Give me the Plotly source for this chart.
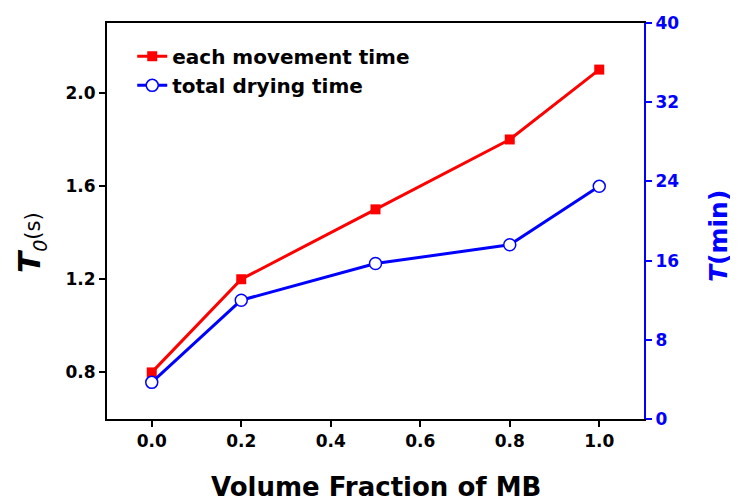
import plotly.graph_objects as go

volume_fraction = [0.0, 0.2, 0.5, 0.8, 1.0]
each_movement_time = [0.8, 1.2, 1.5, 1.8, 2.1]
total_drying_time = [3.7, 12.0, 15.7, 17.6, 23.5]

x_ticks = [0.0, 0.2, 0.4, 0.6, 0.8, 1.0]
x_tick_labels = ["0.0", "0.2", "0.4", "0.6", "0.8", "1.0"]
y_ticks = [0.8, 1.2, 1.6, 2.0]
y_tick_labels = ["0.8", "1.2", "1.6", "2.0"]
y2_ticks = [0, 8, 16, 24, 32, 40]
y2_tick_labels = ["0", "8", "16", "24", "32", "40"]

FONT = "DejaVu Sans"
RED = "#FF0000"
BLUE = "#0000FF"

fig = go.Figure()
fig.add_trace(go.Scatter(
    x=volume_fraction, y=each_movement_time, name="<b>each movement time</b>",
    mode="lines+markers",
    line=dict(color=RED, width=3),
    marker=dict(symbol="square", size=10, color=RED),
    yaxis="y",
))
fig.add_trace(go.Scatter(
    x=volume_fraction, y=total_drying_time, name="<b>total drying time</b>",
    mode="lines+markers",
    line=dict(color=BLUE, width=3),
    marker=dict(symbol="circle", size=12, color="white", line=dict(color=BLUE, width=1.5)),
    yaxis="y2",
))

# The page body has an 8px margin, so the plot area is placed 8px up/left in figure coords.
fig.update_layout(
    width=738, height=504,
    margin=dict(l=99, r=102, t=15, b=93, autoexpand=False),
    paper_bgcolor="white", plot_bgcolor="white",
    font=dict(family=FONT, color="black"),
    showlegend=True,
    legend=dict(
        x=0.047, y=0.965, xanchor="left", yanchor="top",
        bgcolor="rgba(0,0,0,0)",
        font=dict(family=FONT, size=20, color="black"),
        itemwidth=30,
        tracegroupgap=0,
    ),
    xaxis=dict(
        range=[-0.1, 1.1], automargin=False,
        tickvals=x_ticks, ticktext=["<b>%s</b>" % t for t in x_tick_labels],
        showline=True, linecolor="black", linewidth=2, mirror=True,
        ticks="outside", ticklen=6, tickwidth=2, tickcolor="black",
        showgrid=False, zeroline=False,
        tickfont=dict(family=FONT, size=17, color="black"),
    ),
    yaxis=dict(
        range=[0.6, 2.3], automargin=False,
        tickvals=y_ticks, ticktext=["<b>%s</b>" % t for t in y_tick_labels],
        showline=True, linecolor="black", linewidth=2,
        ticks="outside", ticklen=6, tickwidth=2, tickcolor="black",
        showgrid=False, zeroline=False,
        tickfont=dict(family=FONT, size=17, color="black"),
    ),
    yaxis2=dict(
        range=[0, 40], overlaying="y", side="right", automargin=False,
        tickvals=y2_ticks, ticktext=["<b>%s</b>" % t for t in y2_tick_labels],
        showline=True, linecolor=BLUE, linewidth=2,
        ticks="outside", ticklen=6, tickwidth=2, tickcolor=BLUE,
        showgrid=False, zeroline=False,
        tickfont=dict(family=FONT, size=17, color=BLUE),
    ),
)

# Axis titles as annotations (paper coords; plot area is 537 x 396 px)
fig.add_annotation(
    text="<b>Volume Fraction of MB</b>",
    xref="paper", yref="paper", x=0.5, y=-(487 - 419) / 396,
    xanchor="center", yanchor="middle", showarrow=False,
    font=dict(family=FONT, size=26, color="black"),
)
fig.add_annotation(
    text="<b><i>T</i></b><sub><i><span style='font-size:19px'>0</span></i></sub><span style='font-size:21px'>(s)</span>",
    xref="paper", yref="paper", x=-(107 - 31) / 537, y=(419 - 243) / 396,
    xanchor="center", yanchor="middle", showarrow=False, textangle=-90,
    font=dict(family=FONT, size=31, color="black"),
)
fig.add_annotation(
    text="<b><i>T</i>(min)</b>",
    xref="paper", yref="paper", x=1 + (718 - 644) / 537, y=(419 - 236) / 396,
    xanchor="center", yanchor="middle", showarrow=False, textangle=-90,
    font=dict(family=FONT, size=25, color=BLUE),
)

fig.write_html("out.html")
